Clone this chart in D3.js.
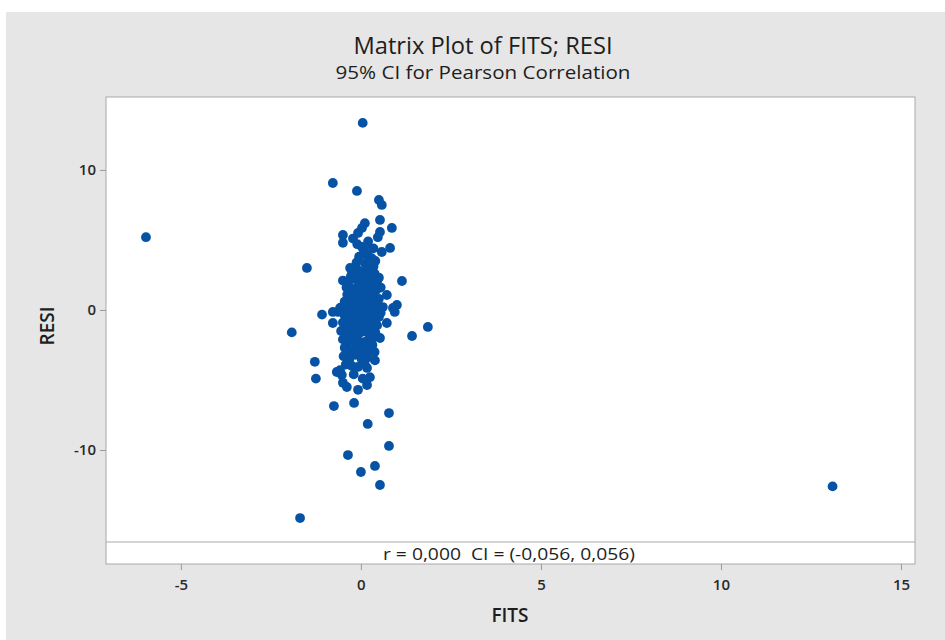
<!DOCTYPE html>
<html>
<head>
<meta charset="utf-8">
<script src="https://cdn.jsdelivr.net/npm/d3@7"></script>
<style>
  body { margin: 0; background: #fff; }
  text { font-family: "Open Sans", "Noto Sans", sans-serif; white-space: pre; }
</style>
</head>
<body>
<svg width="945" height="640"></svg>
<script>
// FITS / RESI values, grouped by region of the plot
var fits = [
  -5.97, 13.1, -1.69, 0.05, -0.78, -0.11, 0.5, 0.58, -1.5, 1.14,
  -0.5, -0.5, -0.22, -0.08, 0.03, 0.11, 0.53, 0.86, 0.53, 0.47, 0.58, 0.81, -0.1, 0.2, 0.35,
  0.03, 0.17, 0.3, -0.05, 0.08, 0.22, 0.4, -0.12, 0.12, 0.35,
  -0.3, -0.5, -0.25, -0.1, 0.05, 0.2, 0.38, 0.5, -0.35, -0.15, 0.02, 0.15, 0.3, 0.45, -0.4, -0.2, -0.05, 0.1, 0.25, 0.42, 0.55,
  -0.38, -0.22, -0.08, 0.07, 0.2, 0.35, 0.5, 0.72, -0.45, -0.3, -0.15, 0.0, 0.14, 0.3, 0.45, 0.61, 1.0, 0.89, -0.53, -0.58, -0.35, -0.2, -0.05, 0.1, 0.25, 0.4, 0.55,
  -0.78, -1.08, -0.64, -0.45, -0.3, -0.12, 0.05, 0.2, 0.35, 0.5, 0.94, -0.78, 0.72, -0.5, -0.35, -0.2, -0.02, 0.15, 0.3, 0.45, -0.55, -0.4, -0.25, -0.08, 0.1, 0.25, 0.4, 0.53, 1.42, 1.86, -1.92,
  -0.5, -0.35, -0.18, 0.0, 0.17, 0.32, -0.45, -0.3, -0.12, 0.05, 0.22, 0.38, -0.48, -0.32, -0.15, 0.02, 0.18, 0.39, -0.42, -0.25, -0.08, 0.1, 0.17, -1.28, -1.25,
  -0.58, -0.53, -0.67, -0.5, -0.39, -0.08, 0.17, 0.25, -0.2, 0.05,
  -0.75, -0.36, 0.0, 0.39, 0.53, 0.78, 0.78, 0.19, -0.19,
  -0.28, -0.12, 0.04, 0.18, 0.33, -0.22, -0.05, 0.12, 0.27, 0.42, -0.3, -0.16, 0.0, 0.16, 0.31,
  -0.26, -0.1, 0.06, 0.22, 0.36, -0.2, -0.04, 0.12, 0.28, -0.15, 0.0, 0.15, 0.3, -0.1, 0.08
];
var resi = [
  5.2, -12.6, -14.86, 13.36, 9.07, 8.5, 7.86, 7.5, 3.0, 2.07,
  5.36, 4.8, 5.1, 5.5, 5.86, 6.2, 6.43, 5.86, 5.57, 5.2, 4.14, 4.43, 4.7, 4.9, 4.4,
  4.5, 3.9, 3.7, 3.8, 4.1, 4.3, 3.5, 3.4, 3.3, 3.1,
  3.0, 2.1, 2.6, 2.9, 2.7, 2.9, 2.6, 2.3, 2.0, 2.2, 2.3, 2.1, 2.0, 1.9, 1.6, 1.5, 1.8, 1.6, 1.5, 1.4, 1.6,
  1.1, 1.2, 1.0, 1.2, 0.9, 1.0, 0.8, 1.07, 0.6, 0.5, 0.7, 0.5, 0.6, 0.4, 0.5, 0.21, 0.36, 0.14, 0.21, 0.14, 0.1, 0.0, 0.2, 0.1, -0.1, 0.05, -0.2,
  -0.14, -0.33, -0.14, -0.4, -0.5, -0.3, -0.6, -0.4, -0.7, -0.5, -0.14, -0.93, -0.93, -0.9, -1.1, -0.9, -1.2, -1.0, -1.3, -1.1, -1.5, -1.7, -1.4, -1.7, -1.5, -1.8, -1.6, -2.0, -1.86, -1.21, -1.6,
  -2.1, -2.3, -2.0, -2.3, -2.2, -2.5, -2.7, -2.9, -2.6, -2.9, -2.8, -3.0, -3.3, -3.5, -3.2, -3.5, -3.4, -3.6, -3.9, -4.0, -4.07, -3.8, -4.14, -3.7, -4.9,
  -4.3, -4.64, -4.43, -5.2, -5.5, -5.7, -5.36, -4.8, -4.6, -4.9,
  -6.86, -10.36, -11.57, -11.14, -12.5, -9.71, -7.36, -8.14, -6.64,
  2.4, 2.5, 2.1, 2.5, 2.3, 1.3, 1.4, 1.9, 1.2, 1.7, 0.9, 0.3, 0.8, 0.3, 0.8,
  -0.2, -0.6, -0.2, -0.7, -0.3, -1.3, -0.8, -1.3, -0.9, -1.9, -1.6, -2.4, -2.1, -2.4, -3.1
];
var xTicks = [-5, 0, 5, 10, 15];
var yTicks = [-10, 0, 10];
var title = "Matrix Plot of FITS; RESI",
    subtitle = "95% CI for Pearson Correlation",
    corrText = "r = 0,000  CI = (-0,056, 0,056)";

var svg = d3.select("svg"),
    plotLeft = 106, plotRight = 915, plotTop = 97, plotBottom = 564, stripY = 542;

var points = fits.map(function(f, i) { return { x: f, y: resi[i] }; });

var x = d3.scaleLinear().domain([-7.08, 15.39]).range([plotLeft, plotRight]);
var y = d3.scaleLinear().domain([-16.57, 15.21]).range([stripY, plotTop]);

// gray page
svg.append("rect")
    .attr("x", 6).attr("y", 12)
    .attr("width", 939).attr("height", 628)
    .attr("fill", "#e6e6e6");

svg.append("text")
    .attr("x", 483).attr("y", 54)
    .attr("text-anchor", "middle")
    .attr("font-size", 24)
    .attr("fill", "#1e1e1e")
    .attr("textLength", 259).attr("lengthAdjust", "spacingAndGlyphs")
    .text(title);

svg.append("text")
    .attr("x", 483).attr("y", 79)
    .attr("text-anchor", "middle")
    .attr("font-size", 19)
    .attr("fill", "#1e1e1e")
    .attr("textLength", 295).attr("lengthAdjust", "spacingAndGlyphs")
    .text(subtitle);

// plot frame
svg.append("rect")
    .attr("x", plotLeft).attr("y", plotTop)
    .attr("width", plotRight - plotLeft).attr("height", plotBottom - plotTop)
    .attr("fill", "#fff")
    .attr("stroke", "#a8a8a8");

svg.append("line")
    .attr("x1", plotLeft).attr("x2", plotRight)
    .attr("y1", stripY).attr("y2", stripY)
    .attr("stroke", "#a8a8a8");

svg.append("text")
    .attr("x", 509).attr("y", 560)
    .attr("text-anchor", "middle")
    .attr("font-size", 16)
    .attr("fill", "#1e1e1e")
    .attr("textLength", 252).attr("lengthAdjust", "spacingAndGlyphs")
    .text(corrText);

var fmt = function(d) { return String(d); };

var xAxis = svg.append("g")
    .attr("transform", "translate(0," + plotBottom + ")")
    .call(d3.axisBottom(x).tickValues(xTicks).tickFormat(fmt).tickSize(6).tickPadding(9));
var yAxis = svg.append("g")
    .attr("transform", "translate(" + plotLeft + ",0)")
    .call(d3.axisLeft(y).tickValues(yTicks).tickFormat(fmt).tickSize(6).tickPadding(4));

[xAxis, yAxis].forEach(function(a) {
  a.select(".domain").remove();
  a.selectAll(".tick line").attr("stroke", "#9a9a9a");
  a.selectAll(".tick text")
      .attr("font-family", "\"Open Sans\", sans-serif")
      .attr("font-size", 15)
      .attr("font-weight", 600)
      .attr("fill", "#2a2a2a");
});

svg.append("text")
    .attr("x", 510).attr("y", 622)
    .attr("text-anchor", "middle")
    .attr("font-size", 19)
    .attr("font-weight", 600)
    .attr("fill", "#1e1e1e")
    .text("FITS");

svg.append("text")
    .attr("transform", "translate(54,326) rotate(-90)")
    .attr("text-anchor", "middle")
    .attr("font-size", 19)
    .attr("font-weight", 600)
    .attr("fill", "#1e1e1e")
    .text("RESI");

svg.append("g").selectAll("circle")
    .data(points)
  .enter().append("circle")
    .attr("cx", function(d) { return x(d.x); })
    .attr("cy", function(d) { return y(d.y); })
    .attr("r", 4.9)
    .attr("fill", "#0653a5");
</script>
</body>
</html>
